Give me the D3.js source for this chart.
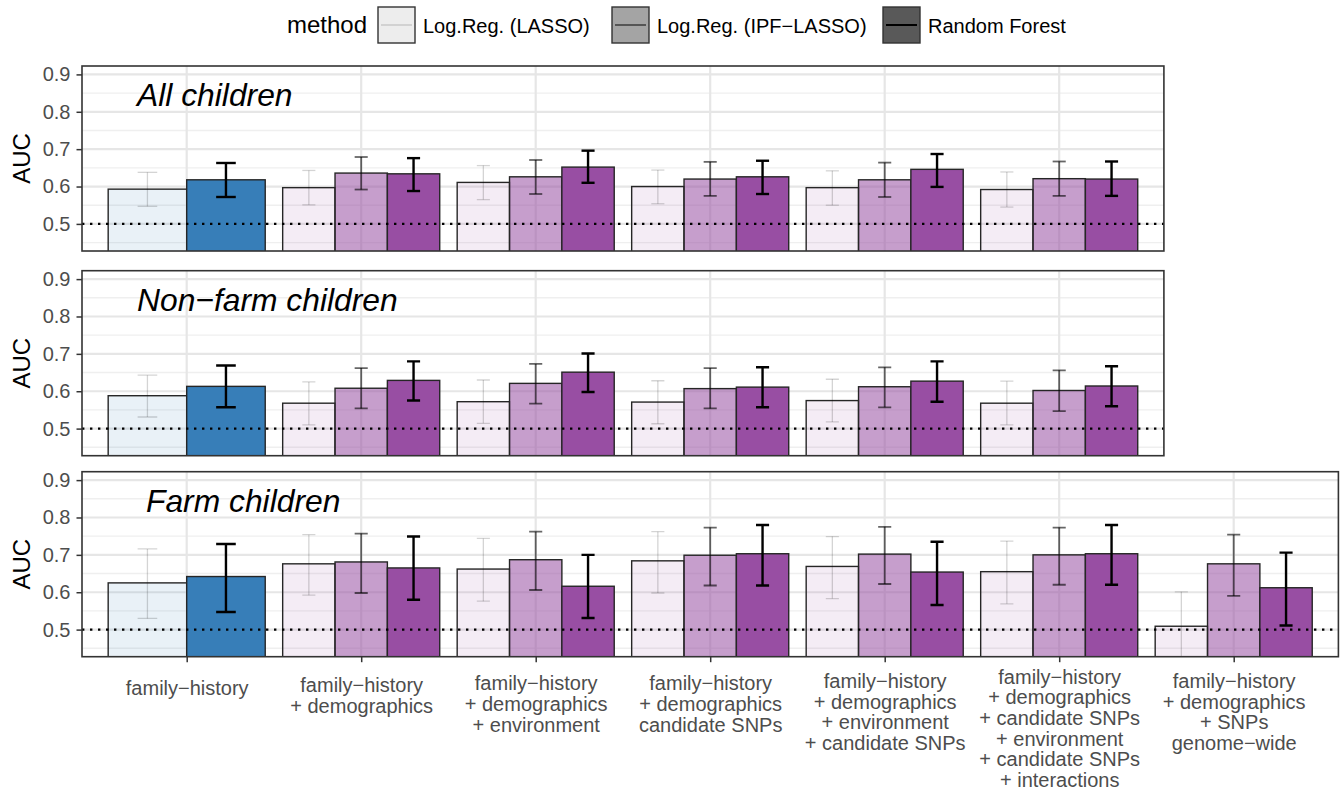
<!DOCTYPE html>
<html>
<head>
<meta charset="utf-8">
<script src="https://cdn.jsdelivr.net/npm/d3@7"></script>
<style>
  body { margin: 0; background: #fff; }
  text { font-family: "Liberation Sans", Arial, Helvetica, sans-serif; }
</style>
</head>
<body>
<svg id="chart" width="1343" height="792"></svg>
<script>
// ---- data -------------------------------------------------------------
const categories = [
  ["family−history"],
  ["family−history", "+ demographics"],
  ["family−history", "+ demographics", "+ environment"],
  ["family−history", "+ demographics", "candidate SNPs"],
  ["family−history", "+ demographics", "+ environment", "+ candidate SNPs"],
  ["family−history", "+ demographics", "+ candidate SNPs", "+ environment", "+ candidate SNPs", "+ interactions"],
  ["family−history", "+ demographics", "+ SNPs", "genome−wide"]
];
const methods = ["Log.Reg. (LASSO)", "Log.Reg. (IPF−LASSO)", "Random Forest"];
const panelTitles = ["All children", "Non−farm children", "Farm children"];
const yTicks = [0.5, 0.6, 0.7, 0.8, 0.9];
const yMinor = [0.45, 0.55, 0.65, 0.75, 0.85];
const chanceLevel = 0.5;

// All children
const allLassoMean = [0.593, 0.597, 0.611, 0.600, 0.597, 0.592];
const allLassoLo   = [0.547, 0.551, 0.565, 0.554, 0.550, 0.545];
const allLassoHi   = [0.638, 0.643, 0.656, 0.644, 0.642, 0.639];
const allIpfMean   = [null, 0.636, 0.626, 0.620, 0.618, 0.621];
const allIpfLo     = [null, 0.592, 0.580, 0.575, 0.572, 0.575];
const allIpfHi     = [null, 0.679, 0.671, 0.666, 0.664, 0.667];
const allRfMean    = [0.618, 0.634, 0.652, 0.626, 0.646, 0.620];
const allRfLo      = [0.572, 0.588, 0.610, 0.580, 0.599, 0.575];
const allRfHi      = [0.663, 0.676, 0.696, 0.669, 0.687, 0.667];

// Non-farm children
const nonfarmLassoMean = [0.588, 0.568, 0.572, 0.571, 0.575, 0.568];
const nonfarmLassoLo   = [0.531, 0.510, 0.514, 0.513, 0.518, 0.510];
const nonfarmLassoHi   = [0.643, 0.625, 0.630, 0.628, 0.632, 0.627];
const nonfarmIpfMean   = [null, 0.608, 0.621, 0.607, 0.612, 0.602];
const nonfarmIpfLo     = [null, 0.554, 0.567, 0.554, 0.557, 0.547];
const nonfarmIpfHi     = [null, 0.662, 0.673, 0.662, 0.664, 0.656];
const nonfarmRfMean    = [0.613, 0.629, 0.651, 0.611, 0.627, 0.614];
const nonfarmRfLo      = [0.557, 0.575, 0.598, 0.557, 0.572, 0.560];
const nonfarmRfHi      = [0.669, 0.680, 0.701, 0.664, 0.680, 0.667];

// Farm children
const farmLassoMean = [0.625, 0.676, 0.662, 0.684, 0.669, 0.655, 0.509];
const farmLassoLo   = [0.530, 0.592, 0.576, 0.598, 0.583, 0.569, 0.417];
const farmLassoHi   = [0.716, 0.754, 0.744, 0.762, 0.749, 0.737, 0.601];
const farmIpfMean   = [null, 0.681, 0.687, 0.699, 0.702, 0.700, 0.676];
const farmIpfLo     = [null, 0.598, 0.606, 0.618, 0.622, 0.620, 0.590];
const farmIpfHi     = [null, 0.757, 0.762, 0.773, 0.775, 0.773, 0.754];
const farmRfMean    = [0.642, 0.665, 0.616, 0.703, 0.654, 0.703, 0.612];
const farmRfLo      = [0.547, 0.580, 0.531, 0.618, 0.566, 0.620, 0.511];
const farmRfHi      = [0.729, 0.749, 0.700, 0.780, 0.735, 0.780, 0.706];

// ---- assemble ---------------------------------------------------------
function series(mean, lo, hi) { return { mean, lo, hi }; }
const panels = [
  { title: panelTitles[0], series: [series(allLassoMean, allLassoLo, allLassoHi),
                                    series(allIpfMean, allIpfLo, allIpfHi),
                                    series(allRfMean, allRfLo, allRfHi)] },
  { title: panelTitles[1], series: [series(nonfarmLassoMean, nonfarmLassoLo, nonfarmLassoHi),
                                    series(nonfarmIpfMean, nonfarmIpfLo, nonfarmIpfHi),
                                    series(nonfarmRfMean, nonfarmRfLo, nonfarmRfHi)] },
  { title: panelTitles[2], series: [series(farmLassoMean, farmLassoLo, farmLassoHi),
                                    series(farmIpfMean, farmIpfLo, farmIpfHi),
                                    series(farmRfMean, farmRfLo, farmRfHi)] }
];

// ---- style / layout ---------------------------------------------------
const baseBlue = "#377eb8", basePurple = "#984ea3";
const fillAlpha = [0.11, 0.55, 1];
const errColor = ["rgba(0,0,0,0.17)", "rgba(0,0,0,0.6)", "#000"];
const errWidth = [1.3, 1.8, 2.4];
const plotLeft = 82, step = 174.5, panelH = 185;
const panelTops = [66, 270.7, 471.7];
const titleX = [137, 137, 146];
const yDomain = [0.4275, 0.9225];
const tickFont = 20, labelColor = "#4d4d4d";
const lineGap = 20.7;

const svg = d3.select("#chart");
const defs = svg.append("defs");

panels.forEach((p, pi) => {
  const nCat = p.series[0].mean.length;
  const width = step * (nCat - 1 + 1.2);
  const top = panelTops[pi], bottom = top + panelH;
  const x = d3.scalePoint().domain(d3.range(nCat)).range([plotLeft, plotLeft + width]).padding(0.6);
  const y = d3.scaleLinear().domain(yDomain).range([bottom, top]);

  const clipId = "clip" + pi;
  defs.append("clipPath").attr("id", clipId)
    .append("rect").attr("x", plotLeft).attr("y", top).attr("width", width).attr("height", panelH);

  const g = svg.append("g");
  const inner = g.append("g").attr("clip-path", `url(#${clipId})`);

  // grid
  inner.selectAll(".minor").data(yMinor).join("line")
    .attr("x1", plotLeft).attr("x2", plotLeft + width)
    .attr("y1", d => y(d)).attr("y2", d => y(d))
    .attr("stroke", "#efefef").attr("stroke-width", 1.4);
  inner.selectAll(".major").data(yTicks).join("line")
    .attr("x1", plotLeft).attr("x2", plotLeft + width)
    .attr("y1", d => y(d)).attr("y2", d => y(d))
    .attr("stroke", "#e6e6e6").attr("stroke-width", 2.2);
  inner.selectAll(".vgrid").data(d3.range(nCat)).join("line")
    .attr("x1", d => x(d)).attr("x2", d => x(d))
    .attr("y1", top).attr("y2", bottom)
    .attr("stroke", "#e6e6e6").attr("stroke-width", 2.2);

  // bars and error bars per category
  const barsG = inner.append("g");
  const errG = inner.append("g");
  d3.range(nCat).forEach(ci => {
    const present = [0, 1, 2].filter(mi => p.series[mi].mean[ci] !== null);
    const dodge = d3.scaleBand().domain(present)
      .range([x(ci) - 0.45 * step, x(ci) + 0.45 * step]).padding(0);
    const bw = dodge.bandwidth();
    const color = ci === 0 ? baseBlue : basePurple;
    present.forEach(mi => {
      const s = p.series[mi];
      barsG.append("rect")
        .attr("x", dodge(mi)).attr("width", bw)
        .attr("y", y(s.mean[ci])).attr("height", bottom + 5 - y(s.mean[ci]))
        .attr("fill", color).attr("fill-opacity", fillAlpha[mi])
        .attr("stroke", "#262626").attr("stroke-width", 1.4);
      const cx = dodge(mi) + bw / 2, cap = bw * 0.125;
      const eg = errG.append("g").attr("stroke", errColor[mi]).attr("stroke-width", errWidth[mi]).attr("fill", "none");
      eg.append("line").attr("x1", cx).attr("x2", cx).attr("y1", y(s.lo[ci])).attr("y2", y(s.hi[ci]));
      eg.append("line").attr("x1", cx - cap).attr("x2", cx + cap).attr("y1", y(s.lo[ci])).attr("y2", y(s.lo[ci]));
      eg.append("line").attr("x1", cx - cap).attr("x2", cx + cap).attr("y1", y(s.hi[ci])).attr("y2", y(s.hi[ci]));
    });
  });

  // chance line
  inner.append("line")
    .attr("x1", plotLeft).attr("x2", plotLeft + width)
    .attr("y1", y(chanceLevel)).attr("y2", y(chanceLevel))
    .attr("stroke", "#000").attr("stroke-width", 2.4).attr("stroke-dasharray", "2.4 5.6");

  // panel label
  g.append("text").attr("x", titleX[pi]).attr("y", top + 40)
    .attr("font-size", 31.8).attr("font-style", "italic").attr("fill", "#000")
    .text(p.title);

  // border
  g.append("rect").attr("x", plotLeft).attr("y", top).attr("width", width).attr("height", panelH)
    .attr("fill", "none").attr("stroke", "#333").attr("stroke-width", 1.6);

  // y axis
  const ya = g.append("g").attr("transform", `translate(${plotLeft},0)`)
    .call(d3.axisLeft(y).tickValues(yTicks).tickSize(5.5).tickPadding(6).tickFormat(d3.format(".1f")));
  ya.select(".domain").remove();
  ya.selectAll(".tick line").attr("stroke", "#333").attr("stroke-width", 1.5);
  ya.selectAll(".tick text").attr("font-size", tickFont).attr("fill", labelColor)
    .style("font-family", '"Liberation Sans", Arial, sans-serif');

  // y title
  g.append("text").attr("transform", `translate(30,${top + panelH / 2}) rotate(-90)`)
    .attr("text-anchor", "middle").attr("font-size", 24).attr("fill", "#000").text("AUC");

  // x axis on the bottom panel only
  if (pi === panels.length - 1) {
    const xa = g.append("g").attr("transform", `translate(0,${bottom})`)
      .call(d3.axisBottom(x).tickSize(5.5).tickFormat(""));
    xa.select(".domain").remove();
    xa.selectAll(".tick line").attr("stroke", "#333").attr("stroke-width", 1.5);
    xa.selectAll(".tick").each(function (d) {
      const lines = categories[d];
      const firstY = 38 - (lines.length - 1) * 2.2;
      const t = d3.select(this).append("text")
        .attr("text-anchor", "middle").attr("font-size", tickFont).attr("fill", labelColor)
        .style("font-family", '"Liberation Sans", Arial, sans-serif');
      lines.forEach((line, li) => {
        t.append("tspan").attr("x", 0).attr("y", firstY + li * lineGap).text(line);
      });
    });
  }
});

// ---- legend -----------------------------------------------------------
const legend = svg.append("g");
legend.append("text").attr("x", 287).attr("y", 33).attr("font-size", 24).attr("fill", "#000").text("method");
const keyX = [378, 612, 883];
const keyFill = "#595959";
const keyLine = ["#d2d2d2", "#555", "#000"];
methods.forEach((m, mi) => {
  legend.append("rect").attr("x", keyX[mi]).attr("y", 7).attr("width", 37).attr("height", 36)
    .attr("fill", keyFill).attr("fill-opacity", fillAlpha[mi])
    .attr("stroke", "#333").attr("stroke-width", 1.4);
  legend.append("line").attr("x1", keyX[mi] + 3).attr("x2", keyX[mi] + 34)
    .attr("y1", 25).attr("y2", 25).attr("stroke", keyLine[mi]).attr("stroke-width", 2);
  legend.append("text").attr("x", keyX[mi] + 45).attr("y", 33)
    .attr("font-size", 20).attr("fill", "#000").text(m);
});
</script>
</body>
</html>
